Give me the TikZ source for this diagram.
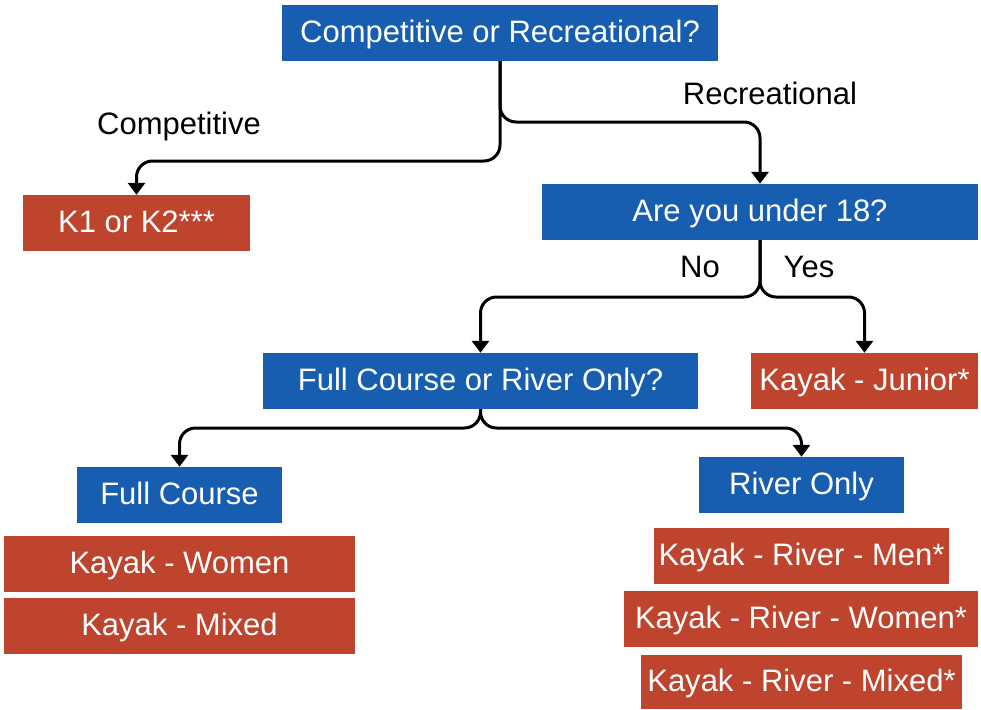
\documentclass[tikz,border=0pt]{standalone}
\usepackage{fontspec}
\setmainfont{Liberation Sans}
\usetikzlibrary{arrows.meta}
\definecolor{qblue}{RGB}{23,94,176}
\definecolor{ared}{RGB}{190,68,46}
\tikzset{
  box/.style={rectangle, inner sep=0pt, text=white, font=\fontsize{31}{36}\selectfont, minimum height=56pt, text height=22pt, text depth=3pt},
  qbox/.style={box, fill=qblue},
  abox/.style={box, fill=ared},
  conn/.style={line width=3pt, rounded corners=16pt, -{Triangle[length=12pt,width=17pt]}},
  lbl/.style={font=\fontsize{31}{36}\selectfont, inner sep=0pt, text height=22pt, text depth=3pt}
}
\begin{document}
\begin{tikzpicture}[x=1pt,y=-1pt]
\useasboundingbox (0,0) rectangle (981,709);
\node[qbox, minimum width=436pt] (q1) at (500,33) {Competitive or Recreational?};
\node[abox, minimum width=227pt] (k1) at (136.5,223) {K1 or K2***};
\node[qbox, minimum width=436pt] (q2) at (760,212) {Are you under 18?};
\node[qbox, minimum width=435pt] (q3) at (480.5,381) {Full Course or River Only?};
\node[abox, minimum width=227pt] (jr) at (864.5,381) {Kayak - Junior*};
\node[qbox, minimum width=205pt] (fc) at (179.5,495) {Full Course};
\node[qbox, minimum width=205pt] (ro) at (801.5,485) {River Only};
\node[abox, minimum width=351pt] (kw) at (179.5,564) {Kayak - Women};
\node[abox, minimum width=351pt] (km) at (179.5,626) {Kayak - Mixed};
\node[abox, minimum width=295pt] (rm) at (801.5,556) {Kayak - River - Men*};
\node[abox, minimum width=354pt] (rw) at (801,619) {Kayak - River - Women*};
\node[abox, minimum width=321pt, minimum height=54pt] (rx) at (801.5,682) {Kayak - River - Mixed*};
\node[lbl] (lc) at (179,125) {Competitive};
\node[lbl] (lr) at (770,95) {Recreational};
\node[lbl] (ln) at (700,268) {No};
\node[lbl] (ly) at (809,268) {Yes};
\draw[conn] (q1.south) -- (q1.south |- 0,161) -| (k1.north);
\draw[conn] (q1.south) -- (q1.south |- 0,122) -| (q2.north);
\draw[conn] (q2.south) -- (q2.south |- 0,297) -| (q3.north);
\draw[conn] (q2.south) -- (q2.south |- 0,297) -| (jr.north);
\draw[conn] (q3.south) -- (q3.south |- 0,428) -| (fc.north);
\draw[conn] (q3.south) -- (q3.south |- 0,428) -| (ro.north);
\end{tikzpicture}
\end{document}
